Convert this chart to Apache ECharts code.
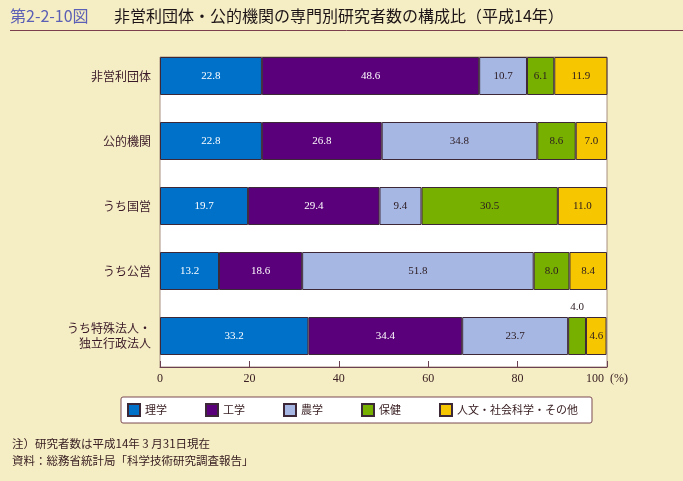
<!DOCTYPE html>
<html>
<head>
<meta charset="utf-8">
<script src="https://cdn.jsdelivr.net/npm/echarts@6/dist/echarts.min.js"></script>
<style>
  body { margin: 0; background: #f5edc3; }
  #main { width: 683px; height: 481px; }
</style>
</head>
<body>
<div id="main"></div>
<script>
// 機関区分
var categories = ['非営利団体', '公的機関', 'うち国営', 'うち公営', 'うち特殊法人・\n独立行政法人'];
var seriesNames = ['理学', '工学', '農学', '保健', '人文・社会科学・その他'];
// 構成比（%）
var rigaku = [22.8, 22.8, 19.7, 13.2, 33.2];
var kougaku = [48.6, 26.8, 29.4, 18.6, 34.4];
var nougaku = [10.7, 34.8, 9.4, 51.8, 23.7];
var hoken = [6.1, 8.6, 30.5, 8.0, 4.0];
var jinbun = [11.9, 7.0, 11.0, 8.4, 4.6];
var xTicks = [0, 20, 40, 60, 80, 100];

var colors = ['#0071c9', '#5a007a', '#a7b7e3', '#78b000', '#f6c700'];
var labelColors = ['#ffffff', '#ffffff', '#2a1a20', '#2a1a20', '#2a1a20'];
var allData = [rigaku, kougaku, nougaku, hoken, jinbun];

var myChart = echarts.init(document.getElementById('main'));

var series = allData.map(function (arr, i) {
  return {
    name: seriesNames[i],
    type: 'bar',
    stack: 'total',
    barWidth: 38,
    clip: false,
    itemStyle: { color: colors[i], borderColor: '#3d2838', borderWidth: 1 },
    label: {
      show: true,
      color: labelColors[i],
      fontFamily: 'Liberation Serif',
      fontSize: 11,
      formatter: function (p) { return p.value.toFixed(1); }
    },
    data: arr.map(function (v, j) {
      // 幅が狭いところは上に表示
      if (i === 3 && j === 4) {
        return { value: v, label: { position: 'top', distance: 4 } };
      }
      return v;
    })
  };
});

myChart.setOption({
  backgroundColor: '#f5edc3',
  animation: false,
  graphic: [
    {
      type: 'rect',
      shape: { x: 160, y: 57, width: 447, height: 310 },
      style: { fill: '#ffffff', stroke: '#a89080', lineWidth: 1 }
    },
    {
      type: 'text', left: 10, top: 8,
      style: { text: '第2-2-10図', fill: '#5b5fb5', font: '16px "Noto Sans CJK JP"' }
    },
    {
      type: 'text', left: 114, top: 8,
      style: { text: '非営利団体・公的機関の専門別研究者数の構成比（平成14年）', fill: '#1c1416', font: '16px "Noto Sans CJK JP"' }
    },
    {
      type: 'line',
      shape: { x1: 10, y1: 30.5, x2: 683, y2: 30.5 },
      style: { stroke: '#7a3e4c', lineWidth: 1 }
    },
    {
      type: 'text', left: 12, top: 438,
      style: { text: '注）研究者数は平成14年 3 月31日現在', fill: '#3a2024', font: '11.5px "Noto Sans CJK JP"' }
    },
    {
      type: 'text', left: 12, top: 455,
      style: { text: '資料：総務省統計局「科学技術研究調査報告」', fill: '#3a2024', font: '11.5px "Noto Sans CJK JP"' }
    }
  ],
  legend: {
    data: seriesNames,
    left: 121,
    top: 397,
    icon: 'rect',
    itemWidth: 12,
    itemHeight: 12,
    itemGap: 38,
    padding: [6, 14, 6, 6],
    backgroundColor: '#ffffff',
    borderColor: '#7a4a52',
    borderWidth: 1,
    borderRadius: 2,
    textStyle: { fontFamily: 'Noto Sans CJK JP', fontSize: 11, color: '#3a2024' }
  },
  grid: { left: 160, right: 76, top: 76, bottom: 145, containLabel: false },
  xAxis: {
    type: 'value',
    min: 0,
    max: 100,
    interval: 20,
    offset: 31,
    axisLine: { show: true, lineStyle: { color: '#6b4050' } },
    axisTick: { show: true, inside: true, length: 6, lineStyle: { color: '#6b4050' } },
    splitLine: { show: false },
    axisLabel: {
      margin: 6,
      color: '#3a2024',
      fontFamily: 'Liberation Serif',
      fontSize: 12,
      formatter: function (v) {
        return xTicks.indexOf(v) === xTicks.length - 1 ? v + '  (%)' : String(v);
      }
    }
  },
  yAxis: {
    type: 'category',
    data: categories,
    inverse: true,
    boundaryGap: false,
    axisLine: { show: false },
    axisTick: { show: false },
    axisLabel: {
      margin: 9,
      color: '#3a1a28',
      fontFamily: 'Noto Sans CJK JP',
      fontSize: 12,
      lineHeight: 15,
      align: 'right'
    }
  },
  series: series
});
</script>
</body>
</html>
